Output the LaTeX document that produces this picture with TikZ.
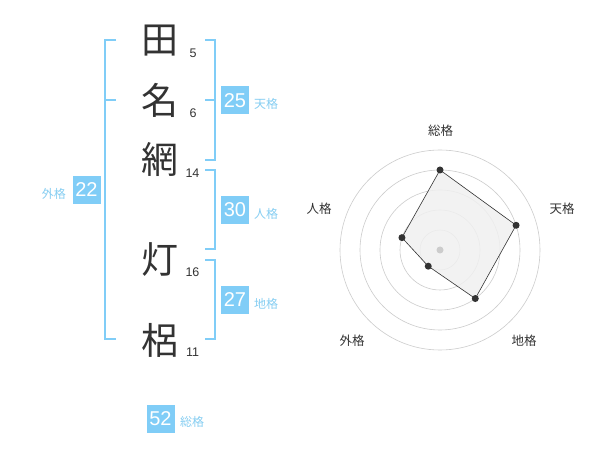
\documentclass[tikz,border=0pt]{standalone}
\usepackage{fontspec}
\setmainfont{Liberation Sans}
\newfontfamily\cjk{Noto Sans CJK JP}
\definecolor{skyb}{HTML}{80CDF7}
\definecolor{skyt}{HTML}{86CEF2}
\definecolor{ink}{HTML}{333333}
\definecolor{ring}{HTML}{CCCCCC}
\definecolor{fillg}{HTML}{F0F0F0}
\begin{document}
\begin{tikzpicture}[x=1pt,y=-1pt,
  kanji/.style={inner sep=0pt,text=ink,font=\cjk\fontsize{37}{37}\selectfont},
  strokes/.style={inner sep=0pt,text=ink,font=\fontsize{12.5}{12.5}\selectfont},
  valbox/.style={fill=skyb,text=white,minimum width=28pt,minimum height=28pt,inner sep=0pt,font=\fontsize{20}{20}\selectfont},
  vallabel/.style={inner sep=0pt,text=skyt,font=\cjk\fontsize{12}{12}\selectfont},
  bracket/.style={draw=skyb,line width=2pt},
  axislabel/.style={inner sep=0pt,text=ink,font=\cjk\fontsize{12.5}{12.5}\selectfont},
  ringline/.style={draw=ring,line width=0.6pt},
  dot/.style={circle,fill=ink,inner sep=0pt,minimum size=7pt}]
\useasboundingbox (0,0) rectangle (600,470);
\fill[white] (0,0) rectangle (600,470);
% kanji
\node[kanji] (k1) at (160,41) {田};
\node[kanji] (k2) at (160,100) {名};
\node[kanji] (k3) at (160,159) {網};
\node[kanji] (k4) at (160,260) {灯};
\node[kanji] (k5) at (160,340) {梠};
\node[strokes] (s1) at (193,53) {5};
\node[strokes] (s2) at (193,113) {6};
\node[strokes] (s3) at (192.5,173) {14};
\node[strokes] (s4) at (192.5,272.5) {16};
\node[strokes] (s5) at (192.5,352.5) {11};
% brackets
\draw[bracket] (116,40) -- (105,40) -- (105,339) -- (116,339);
\draw[bracket] (105,100) -- (116,100);
\draw[bracket] (205,40) -- (215,40) -- (215,160) -- (205,160);
\draw[bracket] (205,100) -- (215,100);
\draw[bracket] (205,170) -- (215,170) -- (215,249) -- (205,249);
\draw[bracket] (205,260) -- (215,260) -- (215,339) -- (205,339);
% value boxes
\node[valbox] (b1) at (235,100.5) {25};
\node[vallabel,anchor=west] (l1) at (254,104) {天格};
\node[valbox] (b2) at (235,210) {30};
\node[vallabel,anchor=west] (l2) at (254,214) {人格};
\node[valbox] (b3) at (235,300) {27};
\node[vallabel,anchor=west] (l3) at (254,304) {地格};
\node[valbox] (b4) at (86.5,190) {22};
\node[vallabel,anchor=east] (l4) at (66,194) {外格};
\node[valbox] (b5) at (160.5,419) {52};
\node[vallabel,anchor=west] (l5) at (180,422) {総格};
% radar
\begin{scope}[shift={(440,250)}]
  \foreach \r in {20,40,60,80,100} \draw[ringline] (0,0) circle[radius=\r pt];
  \coordinate (p1) at (90:80pt);
  \coordinate (p2) at (18:80pt);
  \coordinate (p3) at (-54:60pt);
  \coordinate (p4) at (-126:20pt);
  \coordinate (p5) at (162:40pt);
  \filldraw[fill=fillg,fill opacity=0.85,draw=ink,line width=0.6pt] (p1) -- (p2) -- (p3) -- (p4) -- (p5) -- cycle;
  \fill[ring] (0,0) circle[radius=3.5pt];
  \foreach \p in {p1,p2,p3,p4,p5} \node[dot] at (\p) {};
\end{scope}
\node[axislabel] (a1) at (440.5,130.5) {総格};
\node[axislabel] (a2) at (562,208.5) {天格};
\node[axislabel] (a3) at (524,341) {地格};
\node[axislabel] (a4) at (352,341) {外格};
\node[axislabel] (a5) at (319,209) {人格};
\end{tikzpicture}
\end{document}
